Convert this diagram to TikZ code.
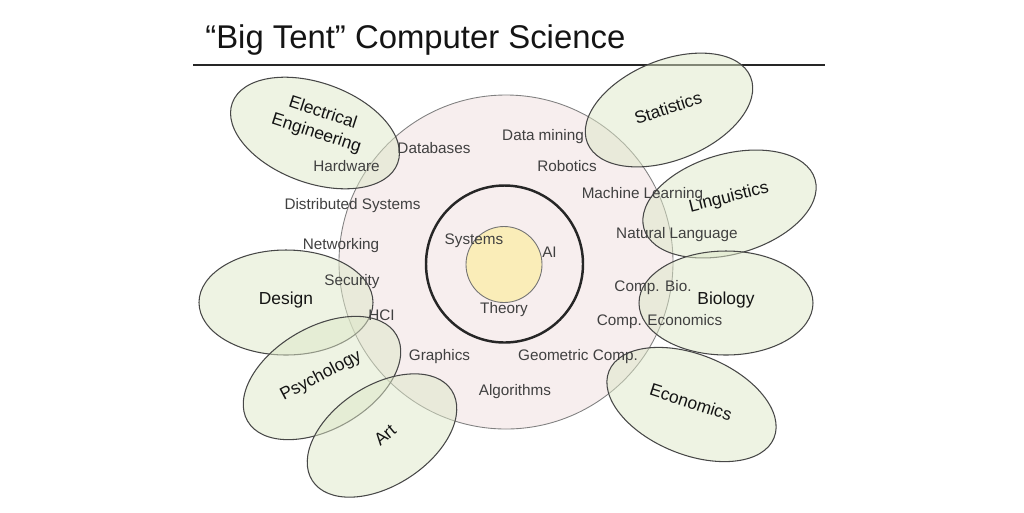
\documentclass[tikz,border=0pt]{standalone}
\usepackage{fontspec}
\setmainfont{Liberation Sans}
\usetikzlibrary{positioning}
\definecolor{tentpink}{RGB}{247,238,238}
\definecolor{coreyellow}{RGB}{250,237,184}
\definecolor{fieldgreen}{RGB}{221,231,199}
\tikzset{
  title/.style={font=\fontsize{18.7}{22}\selectfont,text=black!92,inner sep=0pt},
  rule/.style={draw=black!85,line width=0.6pt},
  tent/.style={draw=black!50,line width=0.5pt,fill=tentpink},
  ring/.style={draw=black!85,line width=1.4pt},
  core/.style={draw=black!55,line width=0.5pt,fill=coreyellow},
  field/.style={draw=black!72,line width=0.6pt,fill=fieldgreen,fill opacity=0.5},
  area/.style={font=\fontsize{8.7}{10}\selectfont,text=black!75,inner sep=1pt},
  fieldname/.style={font=\fontsize{9.9}{12}\selectfont,text=black!92,align=center,inner sep=1pt},
}
\begin{document}
\begin{tikzpicture}[x=0.02cm,y=-0.02cm]
  \useasboundingbox (0,0) rectangle (1024,512);
  %% Title
  \node[title,anchor=base west] (title) at (205,48) {“Big Tent” Computer Science};
  \draw[rule] (193,65) -- (825,65);
  %% Core circles
  \draw[tent] (506,262) circle (167);
  \draw[ring] (504.5,264) circle (78.5);
  \draw[core] (504,264.5) circle (38);
  %% Neighbouring fields
  \draw[field,rotate around={-20:(315,133)}] (315,133) ellipse (88 and 50);
  \draw[field,rotate around={22:(669,110)}]  (669,110) ellipse (88 and 50);
  \draw[field,rotate around={16:(729.5,204)}] (729.5,204) ellipse (89 and 50);
  \draw[field] (726,303) ellipse (87 and 52);
  \draw[field,rotate around={-22:(691.5,404.5)}] (691.5,404.5) ellipse (89 and 50);
  \draw[field] (286,302.5) ellipse (87 and 52.5);
  \draw[field,rotate around={30:(322,378)}] (322,378) ellipse (86 and 51);
  \draw[field,rotate around={33:(382,435.5)}] (382,435.5) ellipse (83 and 50);
  %% Field names
  \node[fieldname,rotate=-18] (ee)    at (319.5,123.5) {Electrical\\Engineering};
  \node[fieldname,rotate=18]  (stat)  at (668,108) {Statistics};
  \node[fieldname,rotate=14]  (ling)  at (729,198) {Linguistics};
  \node[fieldname]            (bio)   at (726,300) {Biology};
  \node[fieldname,rotate=-18] (econ)  at (691,402) {Economics};
  \node[fieldname]            (des)   at (286,300) {Design};
  \node[fieldname,rotate=28]  (psych) at (321,376) {Psychology};
  \node[fieldname,rotate=40]  (art)   at (385,435) {Art};
  %% Areas of CS
  \node[area] (dbase)  at (434,148)   {Databases};
  \node[area] (dmine)  at (543,137)   {Data mining};
  \node[area] (robot)  at (567,166)   {Robotics};
  \node[area] (hw)     at (346.5,166) {Hardware};
  \node[area] (dist)   at (352.5,206) {Distributed Systems};
  \node[area] (ml)     at (642.5,195) {Machine Learning};
  \node[area] (nlp)    at (677,235)   {Natural Language};
  \node[area] (net)    at (341,246)   {Networking};
  \node[area] (sec)    at (352,282)   {Security};
  \node[area] (hci)    at (381.5,315) {HCI};
  \node[area] (cbio)   at (653,288)   {Comp. Bio.};
  \node[area] (cecon)  at (659.5,322) {Comp. Economics};
  \node[area] (gfx)    at (439.5,357) {Graphics};
  \node[area] (geo)    at (578,357)   {Geometric Comp.};
  \node[area] (algo)   at (515,392)   {Algorithms};
  \node[area] (sys)    at (474,241)   {Systems};
  \node[area] (ai)     at (549.5,252) {AI};
  \node[area] (theory) at (504,310)   {Theory};
\end{tikzpicture}
\end{document}
